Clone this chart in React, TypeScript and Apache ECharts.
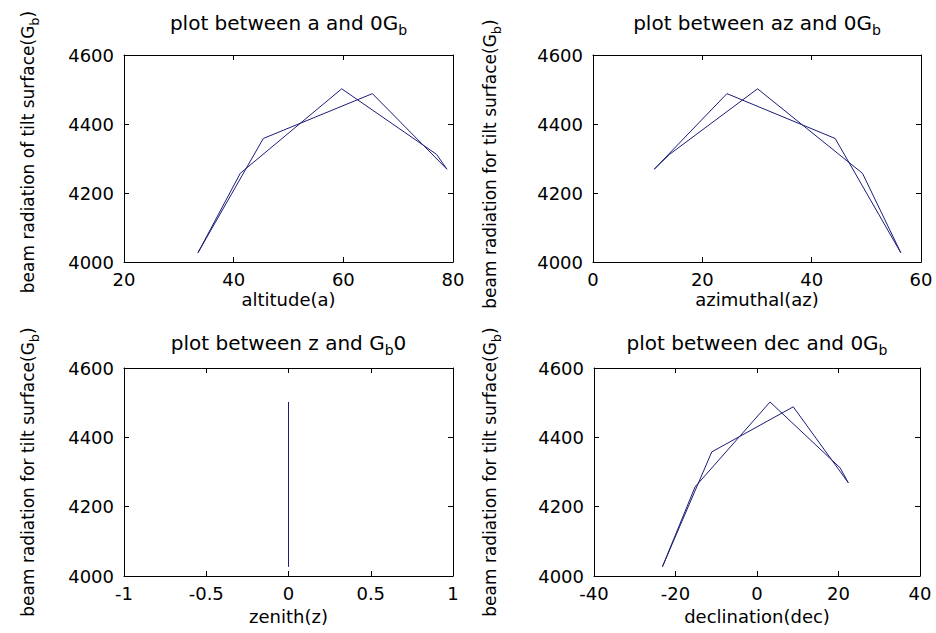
import React, { useEffect, useRef } from "react";
import * as echarts from "echarts";

// Data (one loop through the year)
const altitude = [33.5, 41.2, 59.7, 77.0, 78.9, 65.3, 45.4, 33.5];
const azimuth = [56.3, 49.3, 30.1, 14.0, 11.2, 24.5, 44.3, 56.3];
const zenith = [0, 0, 0, 0, 0, 0, 0, 0];
const declination = [-23.2, -15.2, 3.2, 20.4, 22.4, 8.9, -11.1, -23.2];
const beamRadiation = [4027, 4257, 4502, 4312, 4269, 4488, 4358, 4027];

// Tick labels
const radiationTicks = [4000, 4200, 4400, 4600];
const altitudeTicks = [20, 40, 60, 80];
const azimuthTicks = [0, 20, 40, 60];
const zenithTicks = [-1, -0.5, 0, 0.5, 1];
const declinationTicks = [-40, -20, 0, 20, 40];

const titles = [
  "{n|plot between a and 0G}{s|b}",
  "{n|plot between az and 0G}{s|b}",
  "{n|plot between z and G}{s|b}{n|0}",
  "{n|plot between dec and 0G}{s|b}",
];
const xNames = ["altitude(a)", "azimuthal(az)", "zenith(z)", "declination(dec)"];
const yNames = [
  "{n|beam radiation of tilt surface(G}{s|b}{n|)}",
  "{n|beam radiation for tilt surface(G}{s|b}{n|)}",
  "{n|beam radiation for tilt surface(G}{s|b}{n|)}",
  "{n|beam radiation for tilt surface(G}{s|b}{n|)}",
];

const FONT = "DejaVu Sans";
const LINE = "#1c1c78";

export default function App() {
  const ref = useRef<HTMLDivElement>(null);
  useEffect(() => {
    if (!ref.current) return;
    const chart = echarts.init(ref.current, null, { renderer: "svg" });

    const grids = [
      { left: 124, top: 55, width: 329, height: 207 },
      { left: 593, top: 55, width: 328, height: 207 },
      { left: 124, top: 368, width: 329, height: 208 },
      { left: 594, top: 368, width: 326, height: 208 },
    ];
    const xs = [altitude, azimuth, zenith, declination];
    const xTicks = [altitudeTicks, azimuthTicks, zenithTicks, declinationTicks];
    const nameGaps = [28, 28, 31, 31];

    const axisBase = (ticks: number[]) => ({
      type: "value",
      min: ticks[0],
      max: ticks[ticks.length - 1],
      interval: ticks[1] - ticks[0],
      axisLine: { show: true, onZero: false, lineStyle: { color: "#000", width: 1 } },
      axisTick: { show: true, inside: true, length: 5, lineStyle: { color: "#000", width: 1 } },
      splitLine: { show: false },
    });
    const fmt = (v: number) => String(v);

    const xAxis: any[] = [];
    const yAxis: any[] = [];
    const series: any[] = [];
    grids.forEach((g, i) => {
      xAxis.push({
        ...axisBase(xTicks[i]),
        gridIndex: i,
        position: "bottom",
        name: xNames[i],
        nameLocation: "middle",
        nameGap: nameGaps[i],
        nameTextStyle: { fontSize: 18, color: "#000", fontFamily: FONT },
        axisLabel: {
          show: true,
          margin: 8,
          fontSize: 18,
          color: "#000",
          fontFamily: FONT,
          formatter: fmt,
          showMinLabel: true,
          showMaxLabel: true,
        },
      });
      xAxis.push({
        ...axisBase(xTicks[i]),
        gridIndex: i,
        position: "top",
        axisLabel: { show: false },
      });
      yAxis.push({
        ...axisBase(radiationTicks),
        gridIndex: i,
        position: "left",
        axisLabel: {
          show: true,
          margin: 10,
          fontSize: 18,
          color: "#000",
          fontFamily: FONT,
          formatter: fmt,
          showMinLabel: true,
          showMaxLabel: true,
        },
      });
      yAxis.push({
        ...axisBase(radiationTicks),
        gridIndex: i,
        position: "right",
        axisLabel: { show: false },
      });
      series.push({
        type: "line",
        xAxisIndex: 2 * i,
        yAxisIndex: 2 * i,
        data: xs[i].map((v, k) => [v, beamRadiation[k]]),
        symbol: "none",
        showSymbol: false,
        lineStyle: { color: LINE, width: 1 },
        silent: true,
      });
    });

    const titleRich = {
      n: { fontSize: 20, lineHeight: 22, verticalAlign: "top", fontFamily: FONT, color: "#000" },
      s: { fontSize: 14, lineHeight: 24, verticalAlign: "bottom", fontFamily: FONT, color: "#000" },
    };
    const nameRich = {
      n: { fontSize: 17, lineHeight: 19, verticalAlign: "top", fontFamily: FONT, color: "#000" },
      s: { fontSize: 13, lineHeight: 21, verticalAlign: "bottom", fontFamily: FONT, color: "#000" },
    };

    const titleY = [25, 25, 345, 345];
    const nameX = [30, 492, 30, 492];
    const nameY = [152, 164, 472, 472];

    const graphic: any[] = [];
    grids.forEach((g, i) => {
      graphic.push({
        type: "text",
        x: g.left + g.width / 2,
        y: titleY[i],
        style: {
          text: titles[i],
          rich: titleRich,
          align: "center",
          verticalAlign: "middle",
        },
      });
      graphic.push({
        type: "text",
        x: nameX[i],
        y: nameY[i],
        rotation: Math.PI / 2,
        style: {
          text: yNames[i],
          rich: nameRich,
          align: "center",
          verticalAlign: "middle",
        },
      });
    });

    chart.setOption({
      animation: false,
      backgroundColor: "#fff",
      textStyle: { fontFamily: FONT },
      grid: grids.map((g) => ({ ...g, containLabel: false })),
      xAxis,
      yAxis,
      series,
      graphic,
    });
    return () => chart.dispose();
  }, []);

  return (
    <div
      ref={ref}
      style={{ position: "absolute", left: 0, top: 0, width: 936, height: 633, background: "#fff" }}
    />
  );
}
